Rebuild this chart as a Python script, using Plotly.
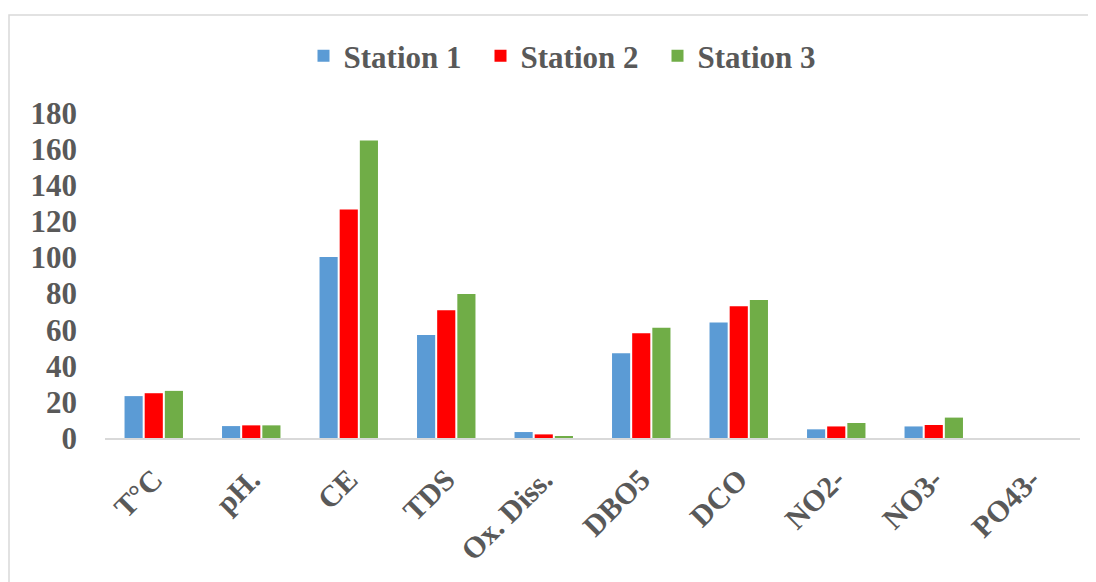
import plotly.graph_objects as go

categories = ["T°C", "pH.", "CE", "TDS", "Ox. Diss.", "DBO5", "DCO", "NO2-", "NO3-", "PO43-"]
station1 = [23.2, 6.6, 100.3, 57.0, 3.3, 47.0, 64.0, 4.8, 6.4, 0.0]
station2 = [24.8, 7.0, 126.5, 70.7, 2.0, 58.0, 73.0, 6.4, 7.2, 0.0]
station3 = [26.1, 7.0, 164.8, 79.7, 0.7, 61.0, 76.5, 8.3, 11.3, 0.0]
series_names = ["Station 1", "Station 2", "Station 3"]
colors = ["#5B9BD5", "#FF0000", "#70AD47"]

font_family = "Liberation Serif"
text_color = "#595959"

fig = go.Figure()
for name, vals, col in zip(series_names, [station1, station2, station3], colors):
    fig.add_trace(go.Bar(x=categories, y=vals, name=name, marker_color=col,
                         marker_line_width=0))

# page is rendered with an 8px body offset
OFF = 8
W, H = 1096, 582
L, R, T, B = 105 - OFF, 1080 - OFF, 113 - OFF, 438 - OFF
pw, ph = R - L, B - T

fig.update_layout(
    width=W, height=H,
    margin=dict(l=L, r=W - R, t=T, b=H - B),
    paper_bgcolor="white", plot_bgcolor="white",
    barmode="group", bargap=0.38, bargroupgap=0.1,
    font=dict(family=font_family, color=text_color, size=24),
    legend=dict(orientation="h", x=(569 - OFF - L) / pw, xanchor="center",
                y=(B - (56 - OFF)) / ph, yanchor="middle",
                font=dict(family=font_family, size=31, color=text_color, weight="bold"),
                itemwidth=30, entrywidth=132, entrywidthmode="pixels",
                traceorder="normal"),
    xaxis=dict(showline=True, linecolor="#D9D9D9", linewidth=2, ticks="",
               tickangle=-45, showgrid=False, automargin=False,
               ticklabelstandoff=10,
               tickfont=dict(family=font_family, size=30, color=text_color, weight="bold")),
    yaxis=dict(range=[0, 180], dtick=20, showgrid=False, zeroline=False,
               showline=False, ticks="", ticklabelstandoff=27, automargin=False,
               tickfont=dict(family=font_family, size=31, color=text_color, weight="bold")),
    shapes=[dict(type="rect", xref="paper", yref="paper",
                 x0=(1 - L) / pw, x1=(1200 - L) / pw,
                 y0=(B - 700) / ph, y1=(B - (15 - OFF)) / ph,
                 line=dict(color="#D9D9D9", width=1.5), layer="below")],
)

fig.write_html("out.html")
